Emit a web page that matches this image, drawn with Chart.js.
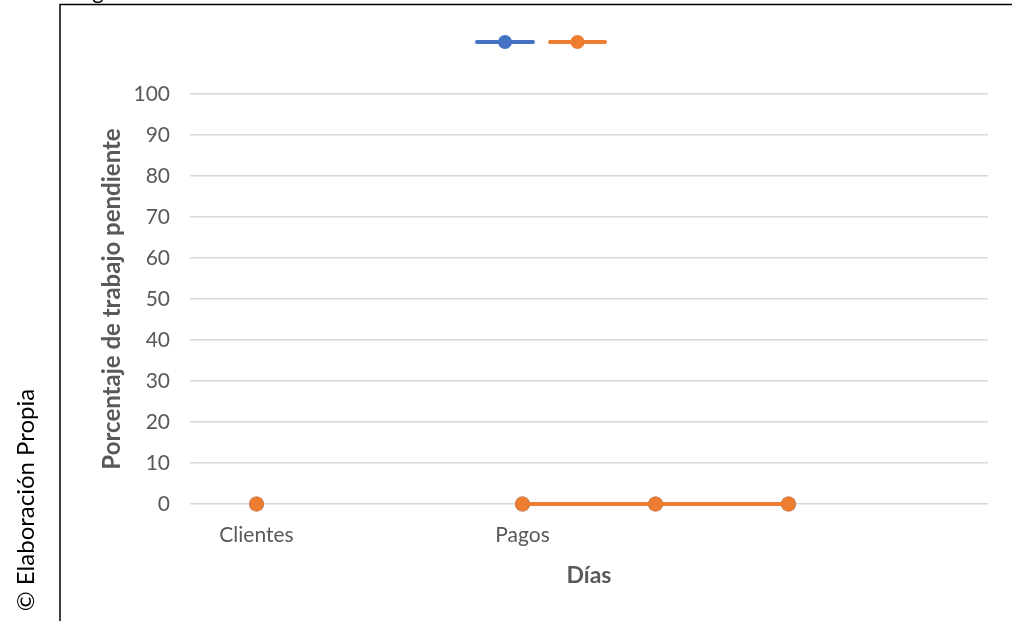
<!DOCTYPE html>
<html>
<head>
<meta charset="utf-8">
<script src="https://cdn.jsdelivr.net/npm/chart.js@4"></script>
<style>
  html, body { margin: 0; padding: 0; background: #ffffff; overflow: hidden; }
  #wrap { position: relative; width: 1012px; height: 621px; }
</style>
</head>
<body>
<div id="wrap"><canvas id="c" width="1012" height="621"></canvas></div>
<script>
// Categories along the x axis (only some carry a visible name)
const categories = ['Clientes', '', 'Pagos', '', '', ''];
// Pending-work percentage per category; null leaves a gap in the line
const serieA = [0, null, 0, 0, 0, null];
const serieB = [0, null, 0, 0, 0, null];
const yTicks = [0, 10, 20, 30, 40, 50, 60, 70, 80, 90, 100];

const AZUL = '#4472C4';
const NARANJA = '#ED7D31';
const GRIS_TEXTO = '#595959';
const FUENTE = 'Lato, "Open Sans", sans-serif';

// Frame, credit line and the marker-only legend
const decoracion = {
  id: 'decoracion',
  afterDraw(chart) {
    const ctx = chart.ctx;
    ctx.save();
    // frame around the chart
    ctx.strokeStyle = '#000000';
    ctx.lineWidth = 1.5;
    ctx.beginPath();
    ctx.moveTo(60, 621);
    ctx.lineTo(60, 4.5);
    ctx.lineTo(1012, 4.5);
    ctx.stroke();

    // caption fragment above the frame
    ctx.fillStyle = '#000000';
    ctx.font = '22px ' + FUENTE;
    ctx.textAlign = 'center';
    ctx.textBaseline = 'alphabetic';
    ctx.fillText('g', 98, -1);

    // rotated credit
    ctx.translate(34, 500);
    ctx.rotate(-Math.PI / 2);
    ctx.font = '24px ' + FUENTE;
    ctx.fillText('© Elaboración Propia', 0, 0);
    ctx.restore();

    // legend: line with a dot for each dataset
    const items = [
      { x0: 477, x1: 533, color: chart.data.datasets[0].borderColor },
      { x0: 550, x1: 605, color: chart.data.datasets[1].borderColor }
    ];
    const y = 42;
    ctx.save();
    items.forEach(it => {
      ctx.strokeStyle = it.color;
      ctx.lineWidth = 4;
      ctx.lineCap = 'round';
      ctx.beginPath();
      ctx.moveTo(it.x0, y);
      ctx.lineTo(it.x1, y);
      ctx.stroke();
      ctx.fillStyle = it.color;
      ctx.beginPath();
      ctx.arc((it.x0 + it.x1) / 2, y, 7, 0, Math.PI * 2);
      ctx.fill();
    });
    ctx.restore();
  }
};

const estiloSerie = (color, order) => ({
  order,
  clip: false,
  borderColor: color,
  backgroundColor: color,
  borderWidth: 4,
  pointRadius: 7.5,
  pointHoverRadius: 7.5,
  pointBorderWidth: 0,
  spanGaps: false,
  tension: 0
});

new Chart(document.getElementById('c'), {
  type: 'line',
  data: {
    labels: categories,
    datasets: [
      Object.assign({ label: 'Serie 1', data: serieA }, estiloSerie(AZUL, 1)),
      Object.assign({ label: 'Serie 2', data: serieB }, estiloSerie(NARANJA, 0))
    ]
  },
  options: {
    responsive: false,
    animation: false,
    layout: { padding: { left: 60, top: 94, right: 24, bottom: 0 } },
    plugins: {
      legend: { display: false },
      tooltip: { enabled: false }
    },
    scales: {
      x: {
        offset: true,
        grid: { display: false, drawTicks: false },
        border: { display: false },
        ticks: {
          autoSkip: false,
          maxRotation: 0,
          padding: 19,
          color: GRIS_TEXTO,
          font: { family: FUENTE, size: 21 }
        },
        title: {
          display: true,
          text: 'Días',
          color: GRIS_TEXTO,
          font: { family: FUENTE, size: 23, weight: 'bold' },
          padding: { top: 0, bottom: 32 }
        },
        afterFit(scale) { scale.height = 117; }
      },
      y: {
        min: 0,
        max: 100,
        afterBuildTicks(scale) { scale.ticks = yTicks.map(v => ({ value: v })); },
        grid: { color: '#D9D9D9', lineWidth: 1.5, drawTicks: false },
        border: { display: false },
        ticks: {
          padding: 20,
          color: GRIS_TEXTO,
          font: { family: FUENTE, size: 21 }
        },
        title: {
          display: true,
          text: 'Porcentaje de trabajo pendiente',
          color: GRIS_TEXTO,
          font: { family: FUENTE, size: 24, weight: 'bold' },
          padding: { top: 38, bottom: 0 }
        },
        afterFit(scale) { scale.width = 130; }
      }
    }
  },
  plugins: [decoracion]
});
</script>
</body>
</html>
